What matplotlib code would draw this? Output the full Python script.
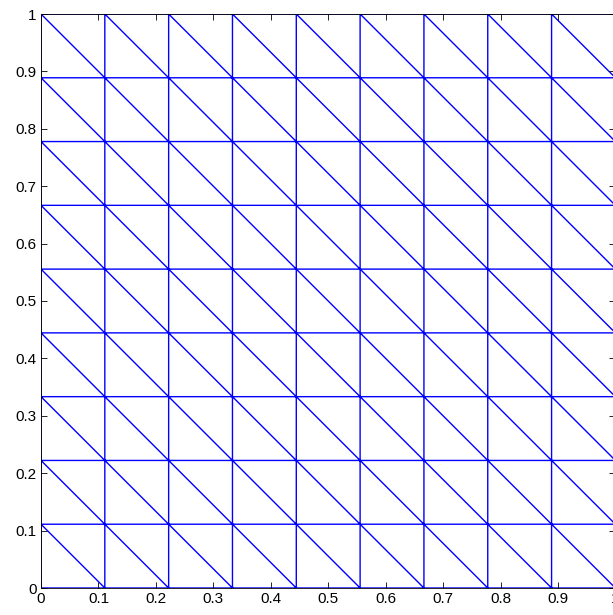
import matplotlib
matplotlib.use("Agg")
import matplotlib.pyplot as plt
import matplotlib.tri as mtri
import numpy as np

# mesh node coordinates (uniform 9x9 subdivision of the unit square)
x_nodes = [0, 1/9, 2/9, 3/9, 4/9, 5/9, 6/9, 7/9, 8/9, 1]
y_nodes = [0, 1/9, 2/9, 3/9, 4/9, 5/9, 6/9, 7/9, 8/9, 1]
x_ticks = [0, 0.1, 0.2, 0.3, 0.4, 0.5, 0.6, 0.7, 0.8, 0.9, 1]
y_ticks = [0, 0.1, 0.2, 0.3, 0.4, 0.5, 0.6, 0.7, 0.8, 0.9, 1]
tick_labels_x = ["0", "0.1", "0.2", "0.3", "0.4", "0.5", "0.6", "0.7", "0.8", "0.9", "1"]
tick_labels_y = ["0", "0.1", "0.2", "0.3", "0.4", "0.5", "0.6", "0.7", "0.8", "0.9", "1"]

nx, ny = len(x_nodes), len(y_nodes)
X, Y = np.meshgrid(x_nodes, y_nodes)
px, py = X.ravel(), Y.ravel()
tris = []
for j in range(ny - 1):
    for i in range(nx - 1):
        bl = j * nx + i
        br = bl + 1
        tl = bl + nx
        tr = tl + 1
        # diagonal from top-left to bottom-right
        tris.append([bl, br, tl])
        tris.append([br, tr, tl])
tri = mtri.Triangulation(px, py, tris)

plt.rcParams['font.family'] = ['Liberation Sans', 'DejaVu Sans']
fig = plt.figure(figsize=(6.13, 6.15), dpi=100)
ax = fig.add_axes([41/613, 27/615, 574.4/613, 574/615])
ax.triplot(tri, color='#0000ff', linewidth=1.0)
ax.set_xlim(0, 1)
ax.set_ylim(0, 1)
ax.set_xticks(x_ticks)
ax.set_xticklabels(tick_labels_x)
ax.set_yticks(y_ticks)
ax.set_yticklabels(tick_labels_y)
ax.tick_params(direction='in', length=4, width=0.6, labelsize=11, top=True, right=True, pad=3)
for s in ax.spines.values():
    s.set_linewidth(0.6)
fig.savefig("out.png", dpi=100)
